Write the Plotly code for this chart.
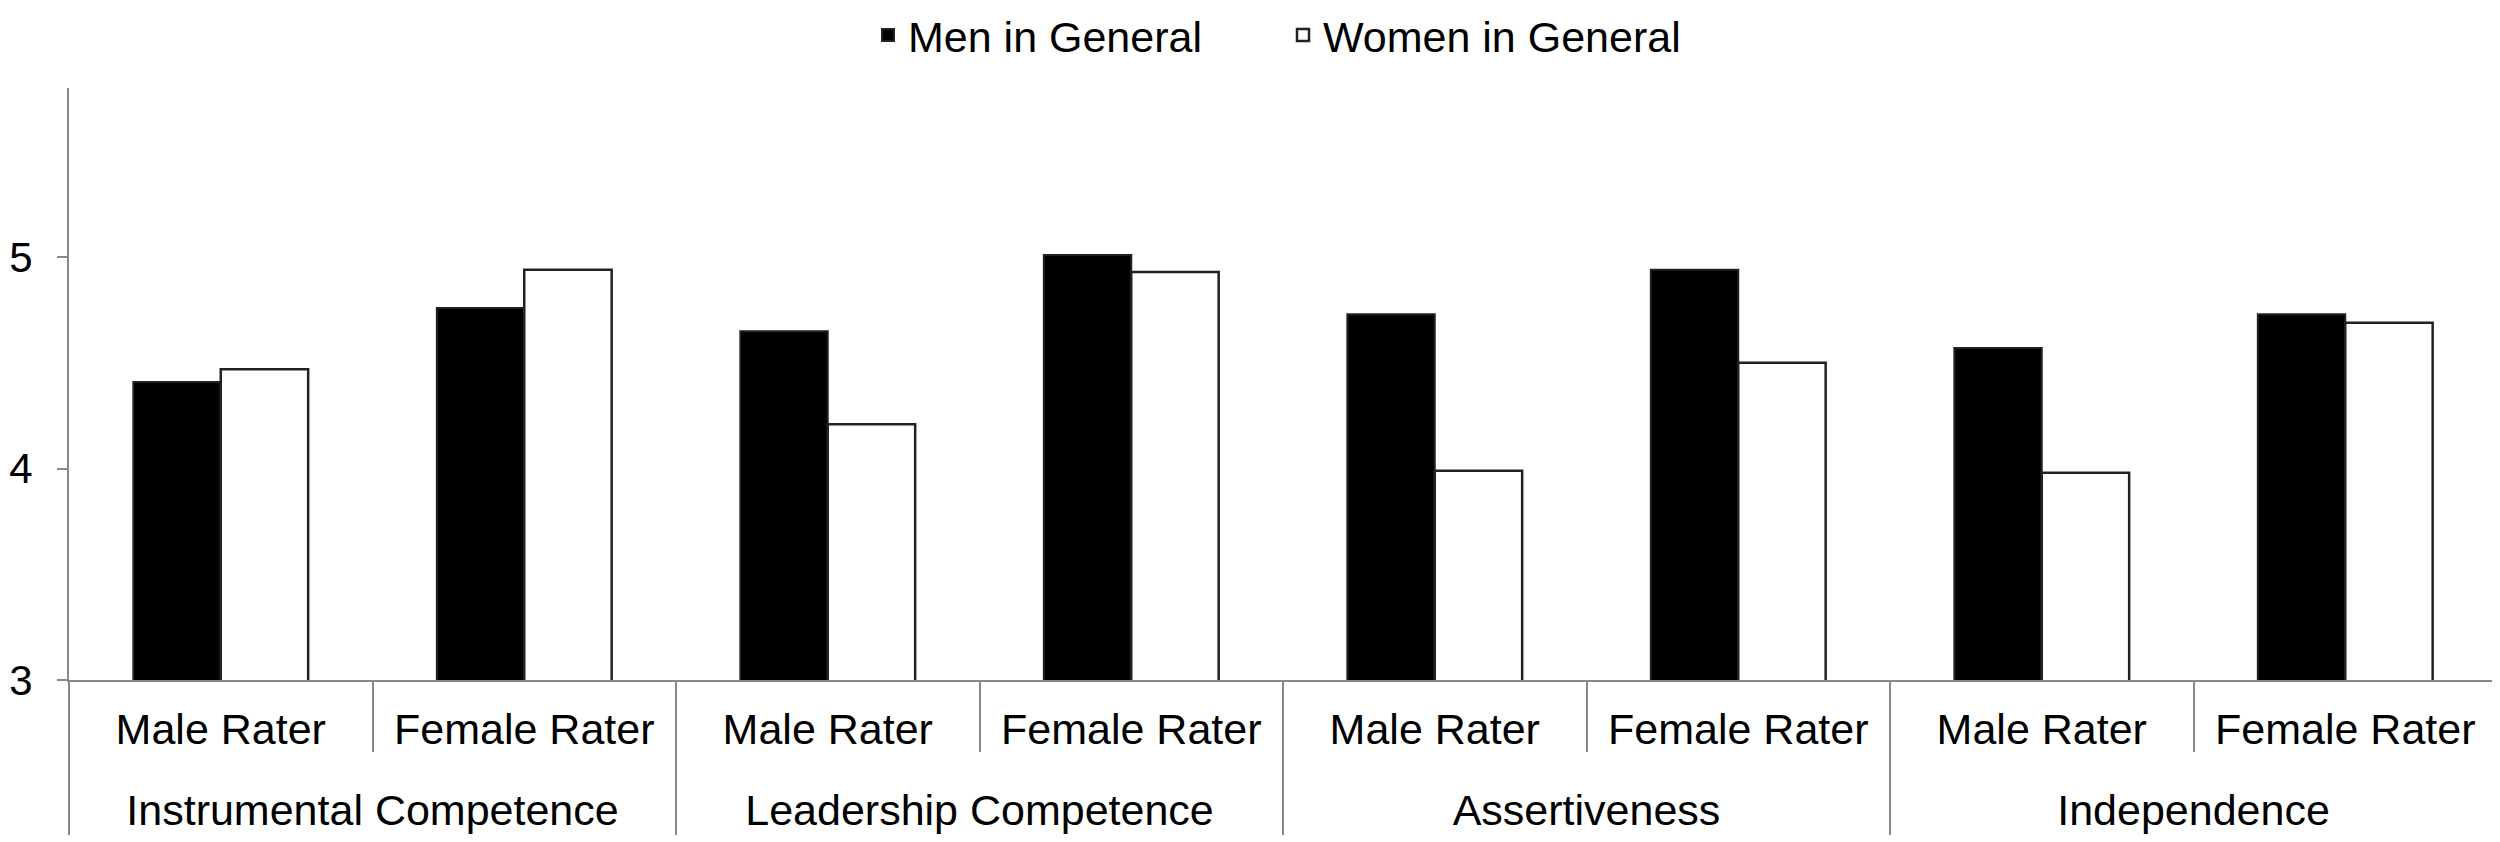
import plotly.graph_objects as go

groups = ["Instrumental Competence", "Leadership Competence", "Assertiveness", "Independence"]
raters = ["Male Rater", "Female Rater"]
series_names = ["Men in General", "Women in General"]
men_values = [4.41, 4.76, 4.65, 5.01, 4.73, 4.94, 4.57, 4.73]
women_values = [4.47, 4.94, 4.21, 4.93, 3.99, 4.50, 3.98, 4.69]
y_ticks = [3, 4, 5]

n_sub = len(raters)
x_pos = list(range(len(men_values)))
x_inner = [r for _ in groups for r in raters]
sub_bounds = [p - 0.5 for p in x_pos] + [x_pos[-1] + 0.5]
group_centers = [sum(x_pos[i * n_sub:(i + 1) * n_sub]) / n_sub for i in range(len(groups))]
group_bounds = [i * n_sub - 0.5 for i in range(len(groups) + 1)]
x_range = [sub_bounds[0], sub_bounds[-1]]

FONT = "Liberation Sans, Arial, Helvetica, sans-serif"
AXC = "#888888"
BAR_W = 0.288  # width of one bar, in category units

fig = go.Figure()
# Men bars on the sub-category axis, women bars on the overlaid group axis;
# both axes share the same range so the pair sits side by side.
fig.add_trace(go.Bar(
    x=x_pos, y=men_values, name=series_names[0], xaxis="x", yaxis="y",
    width=BAR_W, offset=-BAR_W,
    marker=dict(color="#000000", line=dict(color="#222222", width=2)),
))
fig.add_trace(go.Bar(
    x=x_pos, y=women_values, name=series_names[1], xaxis="x2", yaxis="y",
    width=BAR_W, offset=0,
    marker=dict(color="#ffffff", line=dict(color="#222222", width=2.5)),
))

fig.update_layout(
    width=2500, height=842,
    margin=dict(l=61, r=11, t=80, b=170),
    plot_bgcolor="white", paper_bgcolor="white",
    barmode="overlay",
    font=dict(family=FONT, size=43, color="black"),
    legend=dict(
        orientation="h", x=0.5, xanchor="center",
        yref="container", y=0.968, yanchor="middle",
        font=dict(size=43), entrywidth=370, itemclick=False,
        traceorder="normal",
    ),
    xaxis=dict(
        range=x_range, automargin=False,
        tickmode="array", tickvals=x_pos, ticktext=x_inner, ticks="",
        tickfont=dict(size=43, color="black"), ticklabelstandoff=10,
        showline=True, linecolor=AXC, linewidth=2,
        showgrid=False, zeroline=False,
        minor=dict(tickmode="array", tickvals=sub_bounds, ticks="outside",
                   ticklen=70, tickcolor=AXC, tickwidth=2, showgrid=False),
    ),
    xaxis2=dict(
        overlaying="x", matches="x", anchor="y", side="bottom",
        range=x_range, automargin=False,
        tickmode="array", tickvals=group_centers, ticktext=groups, ticks="",
        tickfont=dict(size=43, color="black"), ticklabelstandoff=101,
        showline=False, showgrid=False, zeroline=False,
        minor=dict(tickmode="array", tickvals=group_bounds, ticks="outside",
                   ticklen=154, tickcolor=AXC, tickwidth=2, showgrid=False),
    ),
    yaxis=dict(
        range=[3, 5.8], tickvals=y_ticks, ticktext=[str(v) for v in y_ticks],
        automargin=False,
        showline=True, linecolor=AXC, linewidth=2,
        ticks="outside", ticklen=10, tickcolor=AXC, tickwidth=2,
        tickfont=dict(size=42, color="black"), ticklabelstandoff=16,
        showgrid=False, zeroline=False,
    ),
)

fig.write_html("out.html")
